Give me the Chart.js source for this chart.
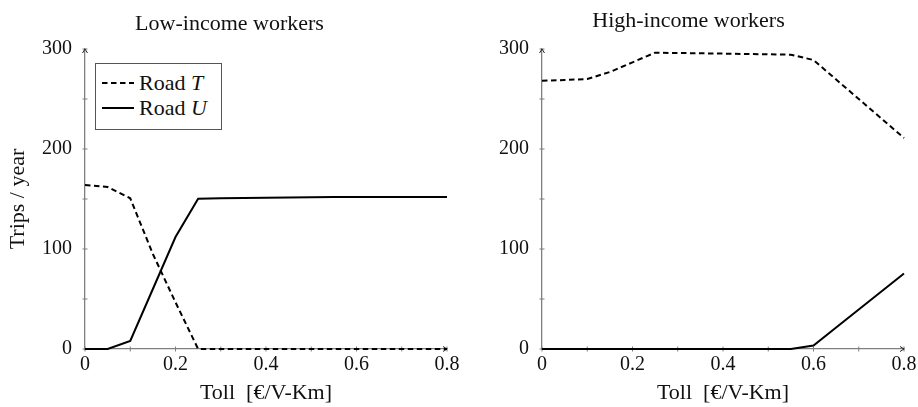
<!DOCTYPE html>
<html>
<head>
<meta charset="utf-8">
<script src="https://cdn.jsdelivr.net/npm/chart.js@4.4.1/dist/chart.umd.min.js"></script>
<style>
    html, body { margin: 0; padding: 0; background: #fff; }
    #wrap { position: relative; width: 918px; height: 407px; font-family: 'Liberation Serif', serif; }
    .panel { position: absolute; top: 0; width: 459px; height: 407px; }
    #legenda {
        position: absolute; left: 95px; top: 63px; width: 125px; height: 59px;
        border: 1px solid #555; background: #fff; font-size: 22px; color: #111;
        padding-top: 6px; box-sizing: content-box;
    }
    #legenda .item { display: flex; align-items: center; height: 25px; }
    #legenda svg { margin-left: 6px; margin-right: 5px; }
</style>
</head>
<body>
<div id="wrap">
    <div class="panel" style="left:0"><canvas id="graficoBaixa" width="459" height="407"></canvas></div>
    <div class="panel" style="left:459px"><canvas id="graficoAlta" width="459" height="407"></canvas></div>
    <div id="legenda"></div>
</div>
<script>
// dados (pedágio a cada 0.05)
const tolls = [0, 0.05, 0.1, 0.15, 0.2, 0.25, 0.3, 0.35, 0.4, 0.45, 0.5, 0.55, 0.6, 0.65, 0.7, 0.75, 0.8];
const seriesLabels = ['Road T', 'Road U'];
const panelTitles = ['Low-income workers', 'High-income workers'];

const lowRoadT = [164, 162, 150.7, 95, 46.7, 0, 0, 0, 0, 0, 0, 0, 0, 0, 0, 0, 0];
const lowRoadU = [0, 0, 8, 60, 112, 150.3, 150.7, 151, 151.3, 151.5, 151.7, 151.9, 152, 152, 152, 152, 152];
const highRoadT = [268.3, 269, 270, 277, 286.7, 296.3, 296, 295.7, 295.4, 295, 294.7, 294.3, 289, 269.5, 250, 230.5, 211];
const highRoadU = [0, 0, 0, 0, 0, 0, 0, 0, 0, 0, 0, 0, 3.5, 21.5, 39.5, 57.5, 75.5];

const yTicks = [0, 100, 200, 300];
const xTicks = [0, 0.2, 0.4, 0.6, 0.8];

const FONTE = "'Liberation Serif', serif";
const CINZA = '#7f7f7f';
const TRACO = [5.5, 3.5];

function pontos(valores) {
    return tolls.map((t, i) => ({ x: t, y: valores[i] }));
}

// setas nas pontas dos eixos e marcas menores (estilo pgfplots)
const eixosPlugin = {
    id: 'eixos',
    beforeDatasetsDraw(chart) {
        const { ctx, scales: { x, y } } = chart;
        const x0 = x.getPixelForValue(0), y0 = y.getPixelForValue(0);
        ctx.save();
        ctx.strokeStyle = CINZA;
        ctx.lineWidth = 1;
        for (let v = 0; v <= 300; v += 50) {
            const py = y.getPixelForValue(v);
            ctx.beginPath(); ctx.moveTo(x0 - 2.5, py); ctx.lineTo(x0 + 2.5, py); ctx.stroke();
        }
        for (let k = 0; k <= 8; k++) {
            const px = x.getPixelForValue(k / 10);
            ctx.beginPath(); ctx.moveTo(px, y0 - 2.5); ctx.lineTo(px, y0 + 2.5); ctx.stroke();
        }
        // setas
        ctx.strokeStyle = '#222';
        const yt = y.getPixelForValue(300);
        ctx.beginPath(); ctx.moveTo(x0 - 2.5, yt + 4); ctx.lineTo(x0, yt); ctx.lineTo(x0 + 2.5, yt + 4); ctx.stroke();
        const xr = x.getPixelForValue(0.8);
        ctx.beginPath(); ctx.moveTo(xr - 4, y0 - 2.5); ctx.lineTo(xr, y0); ctx.lineTo(xr - 4, y0 + 2.5); ctx.stroke();
        ctx.restore();
    }
};

function criarGrafico(id, titulo, serieT, serieU, comTituloY, larguraY, padTopo, folgaDireita) {
    return new Chart(document.getElementById(id), {
        type: 'line',
        data: {
            datasets: [{
                label: seriesLabels[0],
                data: pontos(serieT),
                borderColor: '#000',
                borderWidth: 2,
                borderDash: TRACO,
                pointRadius: 0,
                tension: 0,
                clip: false
            }, {
                label: seriesLabels[1],
                data: pontos(serieU),
                borderColor: '#000',
                borderWidth: 2,
                pointRadius: 0,
                tension: 0,
                clip: false
            }]
        },
        options: {
            responsive: false,
            animation: false,
            layout: { padding: 0 },
            plugins: {
                legend: { display: false },
                tooltip: { enabled: false },
                title: {
                    display: true,
                    text: titulo,
                    color: '#111',
                    font: { family: FONTE, size: 22, weight: 'normal' },
                    padding: { top: padTopo, bottom: 22.6 - padTopo }
                }
            },
            scales: {
                x: {
                    type: 'linear',
                    min: 0, max: 0.8,
                    afterBuildTicks: s => { s.ticks = xTicks.map(v => ({ value: v })); },
                    afterFit: s => { s.height = 58; s.paddingRight = folgaDireita; },
                    border: { display: true, color: CINZA, width: 1.3 },
                    grid: { display: false, drawTicks: false },
                    ticks: {
                        color: '#111', padding: 4,
                        font: { family: FONTE, size: 20 },
                        callback: v => v === 0 ? '0' : v.toFixed(1)
                    },
                    title: {
                        display: true, text: 'Toll  [€/V-Km]', color: '#111',
                        font: { family: FONTE, size: 22 },
                        padding: { top: 0, bottom: 1 }
                    }
                },
                y: {
                    min: 0, max: 300,
                    afterBuildTicks: s => { s.ticks = yTicks.map(v => ({ value: v })); },
                    afterFit: s => { s.width = larguraY; },
                    border: { display: true, color: CINZA, width: 1.3 },
                    grid: { display: false, drawTicks: false },
                    ticks: {
                        color: '#111', padding: 13,
                        font: { family: FONTE, size: 20 }
                    },
                    title: {
                        display: comTituloY, text: 'Trips / year', color: '#111',
                        font: { family: FONTE, size: 22 },
                        padding: { top: 5, bottom: 0 }
                    }
                }
            }
        },
        plugins: [eixosPlugin]
    });
}

document.addEventListener('DOMContentLoaded', () => {
    const baixa = criarGrafico('graficoBaixa', panelTitles[0], lowRoadT, lowRoadU, true, 85, 11, 12);
    criarGrafico('graficoAlta', panelTitles[1], highRoadT, highRoadU, false, 83, 8, 14);
    montarLegenda(baixa);
});

// legenda em HTML para permitir a letra em itálico
function montarLegenda(chart) {
    const caixa = document.getElementById('legenda');
    chart.data.datasets.forEach(ds => {
        const partes = ds.label.split(' ');
        const letra = partes.pop();
        const dash = ds.borderDash ? ds.borderDash.join(',') : 'none';
        const item = document.createElement('div');
        item.className = 'item';
        item.innerHTML =
            '<svg width="32" height="6"><line x1="0" y1="3" x2="32" y2="3" stroke="' + ds.borderColor +
            '" stroke-width="2" stroke-dasharray="' + dash + '"/></svg>' +
            '<span>' + partes.join(' ') + ' <i>' + letra + '</i></span>';
        caixa.appendChild(item);
    });
}
</script>
</body>
</html>
